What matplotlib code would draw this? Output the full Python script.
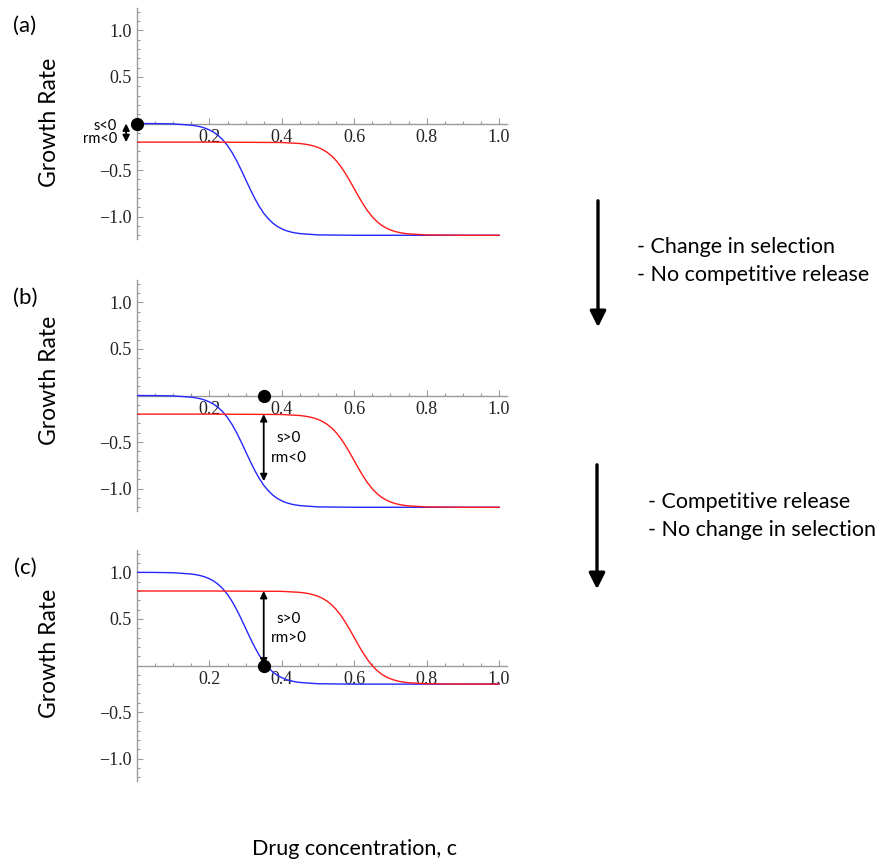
import matplotlib
matplotlib.use("Agg")
import matplotlib.pyplot as plt
from matplotlib.ticker import FixedLocator, FuncFormatter

# drug concentration samples, denser where each curve drops
c_blue = [0, 0.05, 0.1, 0.15, 0.1625, 0.175, 0.1875, 0.2, 0.2125, 0.225, 0.2375, 0.25,
          0.2625, 0.275, 0.2875, 0.3, 0.3125, 0.325, 0.3375, 0.35, 0.3625, 0.375, 0.3875,
          0.4, 0.4125, 0.425, 0.4375, 0.45, 0.5, 0.6, 0.8, 1.0]
c_red = [0, 0.2, 0.4, 0.45, 0.4625, 0.475, 0.4875, 0.5, 0.5125, 0.525, 0.5375, 0.55,
         0.5625, 0.575, 0.5875, 0.6, 0.6125, 0.625, 0.6375, 0.65, 0.6625, 0.675, 0.6875,
         0.7, 0.7125, 0.725, 0.7375, 0.75, 0.8, 0.9, 1.0]

# growth rates (a)/(b)
blue_ab = [0.0, -0.001, -0.004, -0.018, -0.025, -0.035, -0.049, -0.069, -0.095, -0.131,
           -0.178, -0.237, -0.311, -0.398, -0.496, -0.600, -0.704, -0.802, -0.889, -0.963,
           -1.022, -1.069, -1.105, -1.131, -1.151, -1.165, -1.175, -1.182, -1.196, -1.2,
           -1.2, -1.2]
red_ab = [-0.2, -0.2, -0.204, -0.215, -0.221, -0.229, -0.241, -0.257, -0.279, -0.309,
          -0.348, -0.398, -0.459, -0.532, -0.613, -0.7, -0.787, -0.868, -0.941, -1.002,
          -1.052, -1.091, -1.121, -1.143, -1.159, -1.171, -1.179, -1.185, -1.196, -1.2, -1.2]

# growth rates
blue_c = [1.0, 0.999, 0.996, 0.982, 0.975, 0.965, 0.951, 0.931, 0.905, 0.869, 0.822,
          0.763, 0.689, 0.602, 0.504, 0.400, 0.296, 0.198, 0.111, 0.037, -0.022, -0.069,
          -0.105, -0.131, -0.151, -0.165, -0.175, -0.182, -0.196, -0.2, -0.2, -0.2]
red_c = [0.8, 0.8, 0.796, 0.785, 0.779, 0.771, 0.759, 0.743, 0.721, 0.691, 0.652, 0.602,
         0.541, 0.468, 0.387, 0.3, 0.213, 0.132, 0.059, -0.002, -0.052, -0.091, -0.121,
         -0.143, -0.159, -0.171, -0.179, -0.185, -0.196, -0.2, -0.2]

x_major = [0.2, 0.4, 0.6, 0.8, 1.0]
y_major = [-1.0, -0.5, 0.5, 1.0]

panel_names = ["(a)", "(b)", "(c)"]
dots = [(0.0, 0.0), (0.35, 0.0), (0.35, 0.0)]
# double arrow: x, top, bottom, labels
arrows = [(-0.03, 0.0, -0.2, ("s<0", "rm<0")),
          (0.35, -0.2, -0.92, ("s>0", "rm<0")),
          (0.35, 0.8, 0.0, ("s>0", "rm>0"))]

W, H = 890, 861
fig = plt.figure(figsize=(W / 100, H / 100), dpi=100)

axis_grey = "#9a9a9a"
serif = "Liberation Serif"
sans = "Lato"

panel_top = [8, 280, 550]
label_y = [122, 380, 653]


def fx(px):
    return px / W


def fy(py):
    return 1 - py / H


curves = [(blue_ab, red_ab), (blue_ab, red_ab), (blue_c, red_c)]

for i in range(3):
    top = panel_top[i]
    ax = fig.add_axes([fx(137), fy(top + 231), fx(370), 231 / H])
    blue, red = curves[i]
    ax.plot(c_blue, blue, color=(0.15, 0.15, 1.0), lw=1.0, zorder=3)
    ax.plot(c_red, red, color=(1.0, 0.1, 0.1), lw=1.0, zorder=3)
    ax.set_xlim(0, 1.022)
    ax.set_ylim(-1.24, 1.24)

    for s in ['top', 'right']:
        ax.spines[s].set_visible(False)
    for s in ['left', 'bottom']:
        ax.spines[s].set_position(('data', 0))
        ax.spines[s].set_color(axis_grey)
        ax.spines[s].set_linewidth(1.0)

    ax.xaxis.set_major_locator(FixedLocator(x_major))
    ax.xaxis.set_minor_locator(FixedLocator([k * 0.05 for k in range(1, 21) if k % 4]))
    ax.yaxis.set_major_locator(FixedLocator(y_major))
    ax.yaxis.set_minor_locator(FixedLocator([k * 0.1 for k in range(-12, 13) if k % 5]))
    fmt = FuncFormatter(lambda v, p: f"{v:.1f}".replace("-", "\u2212"))
    ax.xaxis.set_major_formatter(fmt)
    ax.yaxis.set_major_formatter(fmt)
    ax.tick_params(which='both', direction='in', color=axis_grey, width=0.8,
                   labelsize=13, labelcolor='#222222')
    ax.tick_params(which='major', length=4.5)
    ax.tick_params(which='minor', length=2.5)
    ax.tick_params(axis='x', pad=4)
    ax.tick_params(axis='y', pad=4)
    for lab in ax.get_xticklabels() + ax.get_yticklabels():
        lab.set_fontfamily(serif)
    ax.patch.set_alpha(0)

    dx, dy = dots[i]
    ax.plot([dx], [dy], 'o', color='black', ms=8.5, zorder=5, clip_on=False)

    ax_x, a_top, a_bot, (t1, t2) = arrows[i]
    ax.annotate('', xy=(ax_x, a_bot), xytext=(ax_x, a_top),
                arrowprops=dict(arrowstyle='<|-|>', color='black', lw=1.3,
                                mutation_scale=10, shrinkA=0, shrinkB=0),
                annotation_clip=False, zorder=4)
    if i == 0:
        ax.text(-0.055, -0.025, t1, ha='right', va='center', fontsize=10.5,
                family=sans, clip_on=False)
        ax.text(-0.055, -0.165, t2, ha='right', va='center', fontsize=10.5,
                family=sans, clip_on=False)
    else:
        ax.text(0.42, (a_top + a_bot) / 2 + 0.1, t1, ha='center', va='center',
                fontsize=11, family=sans)
        ax.text(0.42, (a_top + a_bot) / 2 - 0.11, t2, ha='center', va='center',
                fontsize=11, family=sans)

    fig.text(fx(25), fy(top + 18), panel_names[i], ha='center', va='center',
             fontsize=16, family=sans)
    fig.text(fx(50), fy(label_y[i]), "Growth Rate", rotation=90, ha='center',
             va='center', fontsize=16.5, family=sans)

# transition arrows on the right
for (x0, y0, y1) in [(598, 198, 330), (597, 462, 592)]:
    fig.add_artist(matplotlib.patches.FancyArrowPatch(
        (fx(x0), fy(y0)), (fx(x0), fy(y1)), transform=fig.transFigure,
        arrowstyle='-|>', mutation_scale=24, lw=2.4, color='black'))

notes = [(637, 247, "- Change in selection"), (637, 275, "- No competitive release"),
         (648, 502, "- Competitive release"), (648, 530, "- No change in selection")]
for (x0, y0, s) in notes:
    fig.text(fx(x0), fy(y0), s, ha='left', va='center', fontsize=15.5, family=sans)

fig.text(fx(355), fy(849), "Drug concentration, c", ha='center', va='center',
         fontsize=15.5, family=sans)

fig.savefig("out.png", dpi=100)
